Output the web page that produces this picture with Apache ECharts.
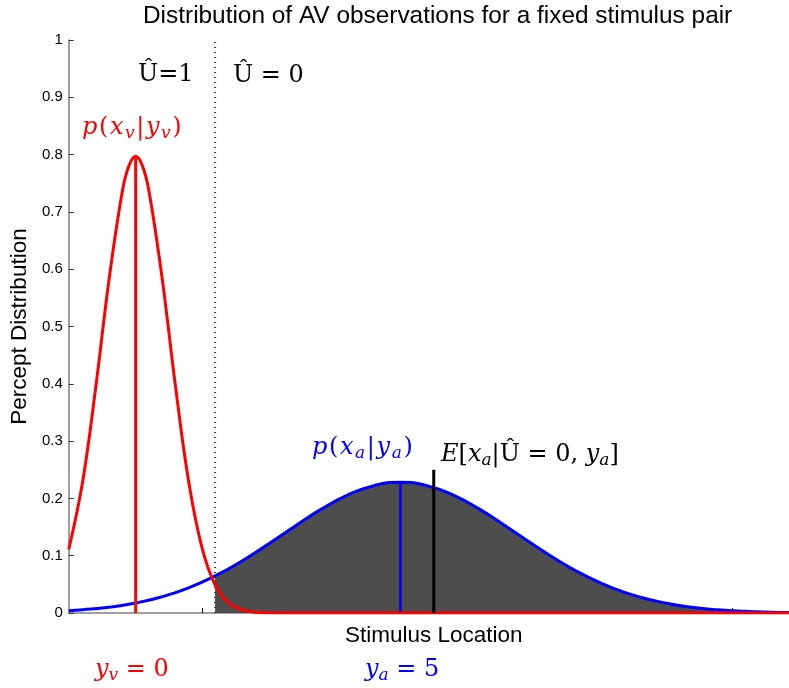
<!DOCTYPE html>
<html>
<head>
<meta charset="utf-8">
<script src="https://cdn.jsdelivr.net/npm/echarts@6/dist/echarts.min.js"></script>
<style>html,body{margin:0;padding:0;background:#fff}#c{width:789px;height:688px}</style>
</head>
<body>
<div id="c"></div>
<script>
// ---- data ----
const xMin = -1.264, xMax = 12.34;
const xTicks = [1.264, 11.264];
const yTicks = [0, 0.1, 0.2, 0.3, 0.4, 0.5, 0.6, 0.7, 0.8, 0.9, 1];

const redX = [-1.264, -1, -0.75, -0.5, -0.25, -0.125, 0, 0.125, 0.25, 0.5, 0.75, 1, 1.25, 1.5, 1.75, 2, 2.25, 2.5, 3, 4, 6, 8, 10, 12.34];
const redY = [0.111, 0.230, 0.397, 0.584, 0.737, 0.781, 0.797, 0.781, 0.737, 0.584, 0.397, 0.230, 0.115, 0.049, 0.018, 0.006, 0.0015, 0.0003, 0, 0, 0, 0, 0, 0];

const blueX = [-1.264, -1, -0.5, 0, 0.5, 1, 1.5, 2, 2.5, 3, 3.5, 4, 4.5, 5, 5.5, 6, 6.5, 7, 7.5, 8, 8.5, 9, 9.5, 10, 10.5, 11, 11.5, 12, 12.34];
const blueY = [0.0040, 0.0056, 0.0101, 0.0174, 0.0284, 0.0440, 0.0647, 0.0903, 0.1199, 0.1511, 0.1809, 0.2057, 0.2222, 0.228, 0.2222, 0.2057, 0.1809, 0.1511, 0.1199, 0.0903, 0.0647, 0.0440, 0.0284, 0.0174, 0.0101, 0.0056, 0.0030, 0.0015, 0.0009];

const boundaryX = 1.5;          // decision boundary (dotted)
const redMean = 0, redPeak = 0.797;
const blueMean = 5, bluePeak = 0.228;
const eMean = 5.63, eTop = 0.25;

// ---- build ----
const redData = redX.map((x, i) => [x, redY[i]]);
const blueData = blueX.map((x, i) => [x, blueY[i]]);
const shadeData = blueData.filter(p => p[0] >= boundaryX);

const chart = echarts.init(document.getElementById('c'), null, {renderer: 'canvas'});
const serif = 'DejaVu Serif';
const FS = 24, SFS = 17;
const rich = (color, pad) => ({
  r: {fontFamily: serif, fontSize: FS, color: color, lineHeight: 28, padding: [0, pad, 0, 0]},
  i: {fontFamily: serif, fontSize: FS, fontStyle: 'italic', color: color, lineHeight: 28, padding: [0, pad, 0, 0]},
  s: {fontFamily: serif, fontSize: SFS, fontStyle: 'italic', color: color, lineHeight: 14, verticalAlign: 'bottom', padding: [0, pad, 0, 0]}
});
function tex(left, baseline, text, color, pad) {
  return {type: 'text', left: left, top: baseline - 17, z: 100,
    style: {text: text, rich: rich(color, pad || 0), fill: color}};
}

const option = {
  animation: false,
  grid: {left: 68, right: 0, top: 40, bottom: 75, containLabel: false},
  xAxis: {
    type: 'value', min: xMin, max: xMax,
    axisLine: {show: true, onZero: false, lineStyle: {color: '#808080', width: 1.5}},
    axisTick: {show: true, inside: true, length: 5, customValues: xTicks, lineStyle: {color: '#000', width: 1}},
    axisLabel: {show: false},
    splitLine: {show: false}
  },
  yAxis: {
    type: 'value', min: 0, max: 1, interval: 0.1,
    name: 'Percept Distribution', nameLocation: 'middle', nameGap: 28,
    nameTextStyle: {fontFamily: 'Liberation Sans', fontSize: 22.5, color: '#000'},
    axisLine: {show: true, onZero: false, lineStyle: {color: '#808080', width: 1.5}},
    axisTick: {show: true, inside: true, length: 5, lineStyle: {color: '#333', width: 1}},
    axisLabel: {fontFamily: 'Liberation Sans', fontSize: 15, color: '#000', margin: 6,
      customValues: yTicks, formatter: v => String(Math.round(v * 10) / 10)},
    splitLine: {show: false}
  },
  series: [
    {type: 'line', data: shadeData, smooth: 0.5, showSymbol: false, z: 1,
      lineStyle: {width: 0}, areaStyle: {color: '#4d4d4d', opacity: 1}, silent: true},
    {type: 'line', data: blueData, smooth: 0.5, showSymbol: false, z: 3,
      lineStyle: {color: '#0000ff', width: 3}},
    {type: 'line', data: [[blueMean, 0], [blueMean, bluePeak]], showSymbol: false, z: 3,
      lineStyle: {color: '#0000ff', width: 2.5}},
    {type: 'line', data: [[redMean, 0], [redMean, redPeak]], showSymbol: false, z: 4,
      lineStyle: {color: '#ff0000', width: 3}},
    {type: 'line', data: redData, smooth: 0.4, showSymbol: false, z: 4,
      lineStyle: {color: '#ff0000', width: 3}},
    {type: 'line', data: [[boundaryX, 0], [boundaryX, 1]], showSymbol: false, z: 2,
      lineStyle: {color: '#333', width: 2, type: [1, 4]}},
    {type: 'line', data: [[eMean, 0], [eMean, eTop]], showSymbol: false, z: 5,
      lineStyle: {color: '#000', width: 3}}
  ],
  graphic: [
    {type: 'text', left: 143, top: 4, style: {text: 'Distribution of AV observations for a fixed stimulus pair',
      fontFamily: 'Liberation Sans', fontSize: 24.4, fill: '#000'}},
    {type: 'text', left: 345, top: 624, style: {text: 'Stimulus Location',
      fontFamily: 'Liberation Sans', fontSize: 22.5, fill: '#000'}},
    tex(138, 80, '{r|Û=1}', '#000'),
    tex(233, 81, '{r|Û = 0}', '#000'),
    tex(82, 133, '{i|p}{r|(}{i|x}{s|v}{r||}{i|y}{s|v}{r|)}', '#ff0000', 1.6),
    tex(312, 453, '{i|p}{r|(}{i|x}{s|a}{r||}{i|y}{s|a}{r|)}', '#0000ff', 1.6),
    tex(441, 460, '{i|E}{r|[}{i|x}{s|a}{r||Û = 0, }{i|y}{s|a}{r|]}', '#000'),
    tex(95, 675, '{i|y}{s|v}{r| = 0}', '#ff0000'),
    tex(365, 675, '{i|y}{s|a}{r| = 5}', '#0000ff')
  ]
};
chart.setOption(option);
</script>
</body>
</html>
